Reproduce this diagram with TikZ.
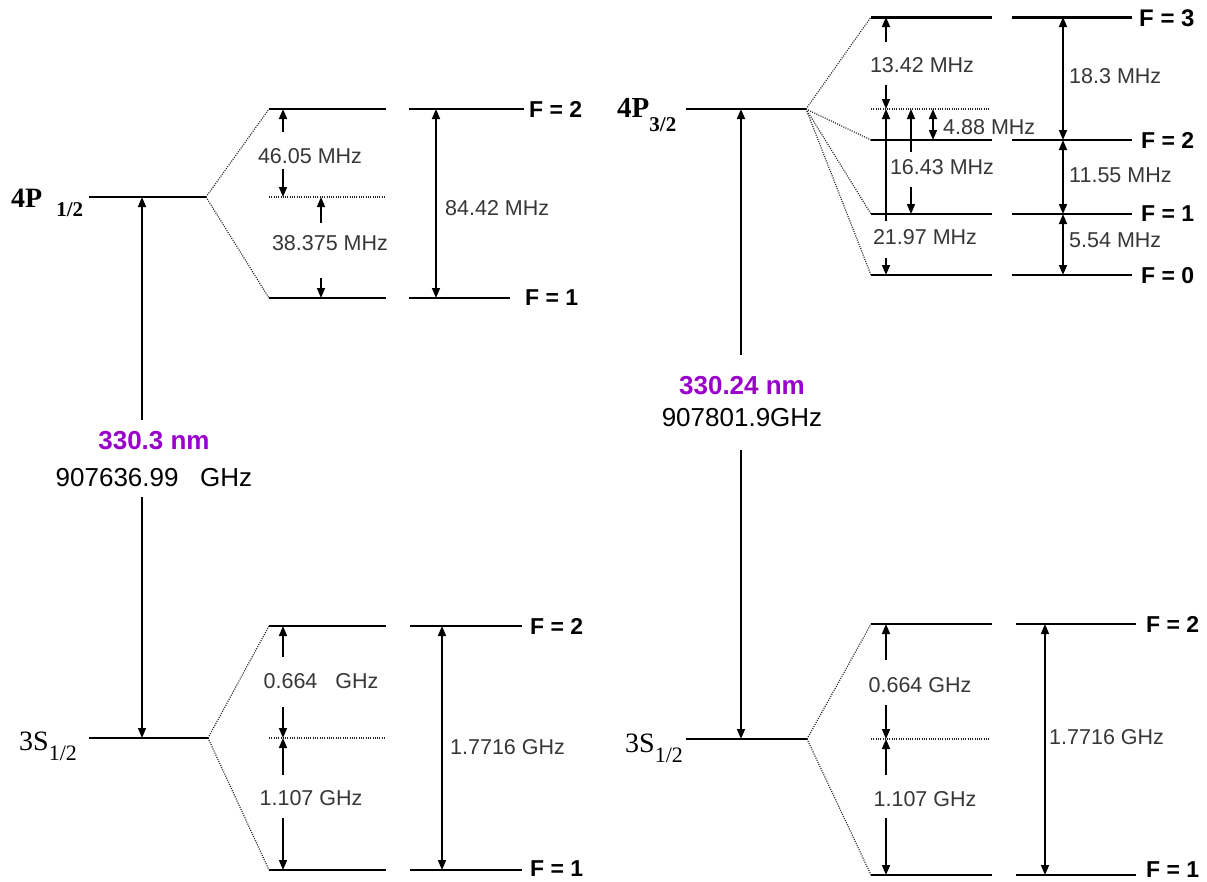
\documentclass[tikz,border=0pt]{standalone}
\usepackage{fontspec}
\setmainfont{Liberation Sans}
\newfontfamily\stateserif{Liberation Serif}
\usetikzlibrary{arrows.meta}
\definecolor{nmviolet}{RGB}{153,0,204}
\definecolor{lblgray}{RGB}{55,55,55}
\begin{document}
\begin{tikzpicture}[x=1pt,y=-1pt,
  lvl/.style={line width=2.2pt},
  lvlbold/.style={line width=3pt},
  dotl/.style={line width=1.2pt, dash pattern=on 1pt off 1.3pt, black!85},
  arr/.style={line width=1.6pt,-{Triangle[length=10pt,width=8pt]}},
  darr/.style={line width=1.6pt,{Triangle[length=10pt,width=8pt]}-{Triangle[length=10pt,width=8pt]}},
  small/.style={font=\fontsize{21.5}{24}\selectfont, text=lblgray, inner sep=0pt},
  smallw/.style={small, anchor=west},
  flab/.style={font=\fontsize{23}{26}\selectfont\bfseries, anchor=west, inner sep=0pt},
  big/.style={font=\fontsize{26}{30}\selectfont, inner sep=0pt},
  nm/.style={font=\fontsize{26}{30}\selectfont\bfseries, text=nmviolet, inner sep=0pt},
  state/.style={anchor=base west, inner sep=0pt},
]
\useasboundingbox[fill=white] (0,0) rectangle (1207,881);

%%%%%%%%%%%%%%%% LEFT PANEL %%%%%%%%%%%%%%%%
% 4P1/2 fine level
\coordinate (LPa) at (89,197); \coordinate (LPb) at (206,197);
\draw[lvl] (LPa) -- (LPb);
\node[state] (LPlab) at (11,207) {\stateserif\bfseries\fontsize{28}{30}\selectfont 4P\hspace{14pt}\raisebox{-9pt}{\fontsize{21}{24}\selectfont 1/2}};

% hyperfine of 4P1/2
\coordinate (LA2a) at (269,109); \coordinate (LA2b) at (386,109);
\coordinate (LA2c) at (409,109); \coordinate (LA2d) at (524,109);
\coordinate (LA1a) at (269,298); \coordinate (LA1b) at (386,298);
\coordinate (LA1c) at (409,298); \coordinate (LA1d) at (510,298);
\coordinate (LAma) at (269,197); \coordinate (LAmb) at (386,197);
\draw[dotl] (LPb) -- (LA2a);
\draw[dotl] (LPb) -- (LA1a);
\draw[dotl] (LAma) -- (LAmb);
\draw[lvl] (LA2a) -- (LA2b); \draw[lvl] (LA2c) -- (LA2d);
\draw[lvl] (LA1a) -- (LA1b); \draw[lvl] (LA1c) -- (LA1d);
\node[flab] (LAF2) at (529,109) {F = 2};
\node[flab] (LAF1) at (525,298) {F = 1};

\node[small] (L4605) at (310,156) {46.05 MHz};
\draw[arr] (283,132) -- (283,109);
\draw[arr] (283,169) -- (283,197);
\node[small] (L38375) at (330,243) {38.375 MHz};
\draw[arr] (321,223) -- (321,197);
\draw[arr] (321,278) -- (321,298);
\draw[darr] (436,109) -- (436,298);
\node[smallw] (L8442) at (445,208) {84.42 MHz};

% optical transition left
\node[nm] (Lnm) at (154,441) {330.3 nm};
\node[big] (Lghz) at (154,478) {907636.99\ \ \ GHz};
\draw[arr] (142,420) -- (142,197);
\draw[arr] (142,497) -- (142,738);

% 3S1/2 left
\coordinate (LSa) at (89,738); \coordinate (LSb) at (208,738);
\draw[lvl] (LSa) -- (LSb);
\node[state] (LSlab) at (19,750) {\stateserif\fontsize{28}{32}\selectfont 3S\raisebox{-10pt}{\fontsize{22}{26}\selectfont 1/2}};
\coordinate (LB2a) at (269,626); \coordinate (LB2b) at (386,626);
\coordinate (LB2c) at (410,626); \coordinate (LB2d) at (522,626);
\coordinate (LB1a) at (269,870); \coordinate (LB1b) at (386,870);
\coordinate (LB1c) at (410,870); \coordinate (LB1d) at (522,870);
\coordinate (LBma) at (269,738); \coordinate (LBmb) at (386,738);
\draw[dotl] (LSb) -- (LB2a);
\draw[dotl] (LSb) -- (LB1a);
\draw[dotl] (LBma) -- (LBmb);
\draw[lvl] (LB2a) -- (LB2b); \draw[lvl] (LB2c) -- (LB2d);
\draw[lvl] (LB1a) -- (LB1b); \draw[lvl] (LB1c) -- (LB1d);
\node[flab] (LBF2) at (530,626) {F = 2};
\node[flab] (LBF1) at (530,869) {F = 1};

\node[small] (L0664) at (321,681) {0.664\ \ \ GHz};
\draw[arr] (283,657) -- (283,626);
\draw[arr] (283,707) -- (283,738);
\node[small] (L1107) at (311,798) {1.107 GHz};
\draw[arr] (283,775) -- (283,738);
\draw[arr] (283,818) -- (283,870);
\draw[darr] (442,626) -- (442,870);
\node[smallw] (L17716) at (450,747) {1.7716 GHz};

%%%%%%%%%%%%%%%% RIGHT PANEL %%%%%%%%%%%%%%%%
\coordinate (RPa) at (686,109); \coordinate (RPb) at (806,109);
\draw[lvl] (RPa) -- (RPb);
\node[state] (RPlab) at (617,117) {\stateserif\bfseries\fontsize{29}{32}\selectfont 4P\raisebox{-14pt}{\fontsize{21}{24}\selectfont 3/2}};

\coordinate (R3a) at (871,17);  \coordinate (R3b) at (992,17);
\coordinate (R3c) at (1012,17); \coordinate (R3d) at (1132,17);
\coordinate (R2a) at (871,140); \coordinate (R2b) at (992,140);
\coordinate (R2c) at (1012,140); \coordinate (R2d) at (1132,140);
\coordinate (R1a) at (871,214); \coordinate (R1b) at (992,214);
\coordinate (R1c) at (1012,214); \coordinate (R1d) at (1132,214);
\coordinate (R0a) at (871,275); \coordinate (R0b) at (992,275);
\coordinate (R0c) at (1012,275); \coordinate (R0d) at (1132,275);
\coordinate (Rma) at (871,109); \coordinate (Rmb) at (990,109);
\draw[dotl] (RPb) -- (R3a);
\draw[dotl] (RPb) -- (R2a);
\draw[dotl] (RPb) -- (R1a);
\draw[dotl] (RPb) -- (R0a);
\draw[dotl] (Rma) -- (Rmb);
\draw[lvlbold] (R3a) -- (R3b); \draw[lvlbold] (R3c) -- (R3d);
\draw[lvl] (R2a) -- (R2b); \draw[lvl] (R2c) -- (R2d);
\draw[lvl] (R1a) -- (R1b); \draw[lvl] (R1c) -- (R1d);
\draw[lvl] (R0a) -- (R0b); \draw[lvl] (R0c) -- (R0d);
\node[flab, font=\fontsize{24}{26}\selectfont\bfseries] (RF3) at (1139,18) {F = 3};
\node[flab] (RF2) at (1141,140) {F = 2};
\node[flab] (RF1) at (1141,214) {F = 1};
\node[flab] (RF0) at (1141,276) {F = 0};

\node[small] (R1342) at (922,65) {13.42 MHz};
\draw[arr] (886,42) -- (886,17);
\draw[arr] (886,85) -- (886,109);
\node[small] (R2197) at (925,237) {21.97 MHz};
\draw[arr] (886,221) -- (886,109);
\draw[arr] (886,258) -- (886,275);
\node[small] (R1643) at (942,167) {16.43 MHz};
\draw[arr] (911,152) -- (911,109);
\draw[arr] (911,187) -- (911,214);
\draw[darr] (933,109) -- (933,140);
\node[smallw] (R488) at (943,127) {4.88 MHz};
\draw[darr] (1063,17) -- (1063,140);
\node[smallw] (R183) at (1069,76) {18.3 MHz};
\draw[darr] (1063,140) -- (1063,214);
\node[smallw] (R1155) at (1069,175) {11.55 MHz};
\draw[darr] (1063,214) -- (1063,275);
\node[smallw] (R554) at (1069,240) {5.54 MHz};

% optical transition right
\node[nm] (Rnm) at (742,386) {330.24 nm};
\node[big] (Rghz) at (742,418) {907801.9GHz};
\draw[arr] (741,355) -- (741,109);
\draw[arr] (741,450) -- (741,739);

% 3S1/2 right
\coordinate (RSa) at (686,739); \coordinate (RSb) at (807,739);
\draw[lvl] (RSa) -- (RSb);
\node[state] (RSlab) at (625,752) {\stateserif\fontsize{28}{32}\selectfont 3S\raisebox{-10pt}{\fontsize{22}{26}\selectfont 1/2}};
\coordinate (RG2a) at (871,624); \coordinate (RG2b) at (992,624);
\coordinate (RG2c) at (1016,624); \coordinate (RG2d) at (1136,624);
\coordinate (RG1a) at (871,875); \coordinate (RG1b) at (992,875);
\coordinate (RG1c) at (1016,875); \coordinate (RG1d) at (1136,875);
\coordinate (RGma) at (871,739); \coordinate (RGmb) at (990,739);
\draw[dotl] (RSb) -- (RG2a);
\draw[dotl] (RSb) -- (RG1a);
\draw[dotl] (RGma) -- (RGmb);
\draw[lvl] (RG2a) -- (RG2b); \draw[lvl] (RG2c) -- (RG2d);
\draw[lvl] (RG1a) -- (RG1b); \draw[lvl] (RG1c) -- (RG1d);
\node[flab] (RGF2) at (1146,624) {F = 2};
\node[flab] (RGF1) at (1146,870) {F = 1};

\node[small] (R0664) at (920,685) {0.664 GHz};
\draw[arr] (886,660) -- (886,624);
\draw[arr] (886,705) -- (886,739);
\node[small] (R1107) at (925,799) {1.107 GHz};
\draw[arr] (886,775) -- (886,739);
\draw[arr] (886,818) -- (886,875);
\draw[darr] (1045,624) -- (1045,875);
\node[smallw] (R17716) at (1049,737) {1.7716 GHz};
\end{tikzpicture}
\end{document}
